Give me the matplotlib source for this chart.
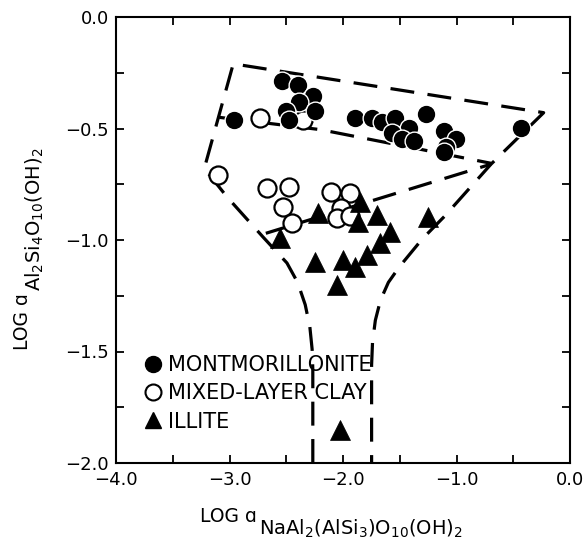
import matplotlib
matplotlib.use('Agg')
import matplotlib.pyplot as plt
from matplotlib.ticker import MultipleLocator, FuncFormatter
from matplotlib.lines import Line2D

# --- data ---
mont_x = [-2.959, -2.538, -2.397, -2.266, -2.389, -2.248, -2.503, -2.476,
          -1.897, -1.748, -1.652, -1.546, -1.266, -1.415, -1.564, -1.476,
          -1.371, -1.108, -1.003, -1.090, -1.108, -0.432]
mont_y = [-0.460, -0.286, -0.304, -0.353, -0.379, -0.420, -0.420, -0.460,
          -0.455, -0.451, -0.473, -0.451, -0.433, -0.496, -0.522, -0.545,
          -0.554, -0.509, -0.545, -0.585, -0.607, -0.496]

mixed_x = [-2.731, -2.354, -3.099, -2.669, -2.476, -2.529, -2.450,
           -2.108, -1.941, -2.020, -2.055, -1.941]
mixed_y = [-0.455, -0.460, -0.710, -0.768, -0.763, -0.853, -0.924,
           -0.786, -0.790, -0.857, -0.902, -0.893]

illite_x = [-2.555, -2.222, -1.854, -1.704, -1.871, -1.590, -1.678,
            -1.792, -1.897, -2.003, -2.248, -2.055, -1.254, -2.030]
illite_y = [-0.991, -0.879, -0.830, -0.888, -0.920, -0.964, -1.013,
            -1.067, -1.121, -1.089, -1.098, -1.201, -0.896, -1.853]

# field boundaries (dashed)
outer_x = [-2.266, -2.266, -2.272, -2.292, -2.333, -2.400, -2.494, -2.704,
           -3.020, -3.222, -2.967, -0.232, -0.696, -1.108, -1.301, -1.503,
           -1.600, -1.670, -1.715, -1.740, -1.748, -1.748]
outer_y = [-2.000, -1.580, -1.490, -1.390, -1.290, -1.190, -1.103, -0.987,
           -0.808, -0.679, -0.210, -0.429, -0.660, -0.895, -0.995, -1.120,
           -1.190, -1.270, -1.360, -1.460, -1.560, -2.000]
mont_lower_x = [-3.09, -2.20, -1.40, -0.696]
mont_lower_y = [-0.450, -0.505, -0.585, -0.656]
illite_upper_x = [-2.68, -0.696]
illite_upper_y = [-0.970, -0.660]

labels = ['MONTMORILLONITE', 'MIXED-LAYER CLAY', 'ILLITE']

W, H = 587, 542
fig = plt.figure(figsize=(W/100, H/100), dpi=100)
ax = fig.add_axes([116/W, 1-463/H, (570-116)/W, (463-17)/H])

dash = (0, (7.5, 4.2))
for xs, ys in [(outer_x, outer_y), (mont_lower_x, mont_lower_y),
               (illite_upper_x, illite_upper_y)]:
    ax.plot(xs, ys, color='black', lw=2.3, linestyle=dash, zorder=1,
            dash_capstyle='butt', dash_joinstyle='round')

ax.plot(mixed_x, mixed_y, 'o', ms=13, mfc='white', mec='black', mew=1.6,
        linestyle='none', zorder=3)
ax.plot(mont_x, mont_y, 'o', ms=13.5, mfc='black', mec='white', mew=1.0,
        linestyle='none', zorder=4)
ax.plot(illite_x, illite_y, '^', ms=14, mfc='black', mec='black', mew=0.5,
        linestyle='none', zorder=4)

ax.set_xlim(-4, 0)
ax.set_ylim(-2, 0)

fmt = FuncFormatter(lambda v, p: f'{v:.1f}'.replace('-', '\u2212'))
ax.xaxis.set_major_locator(MultipleLocator(1.0))
ax.xaxis.set_minor_locator(MultipleLocator(0.5))
ax.yaxis.set_major_locator(MultipleLocator(0.5))
ax.yaxis.set_minor_locator(MultipleLocator(0.25))
ax.xaxis.set_major_formatter(fmt)
ax.yaxis.set_major_formatter(fmt)
ax.tick_params(which='both', direction='in', length=6, width=1.3,
               top=True, right=True, labelsize=13)
ax.tick_params(axis='x', pad=6)
ax.tick_params(axis='y', pad=5)
for s in ax.spines.values():
    s.set_linewidth(1.5)

# axis labels (main part + large subscript, as in the original)
def px(x, y):
    return x / W, 1 - y / H

tx = fig.text(*px(200, 522), 'LOG \u0251', fontsize=13.5, ha='left',
              va='baseline')
ax.annotate(r'NaAl$_2$(AlSi$_3$)O$_{10}$(OH)$_2$', xy=(1, 0), xycoords=tx,
            xytext=(1.5, -6.0), textcoords='offset points', fontsize=14,
            ha='left', va='baseline', annotation_clip=False)

ty = fig.text(*px(28, 350), 'LOG \u0251', fontsize=13.5, ha='left',
              va='baseline', rotation=90, rotation_mode='anchor')
ax.annotate(r'Al$_2$Si$_4$O$_{10}$(OH)$_2$', xy=(1, 1), xycoords=ty,
            xytext=(6.0, 1.5), textcoords='offset points', fontsize=14,
            ha='left', va='baseline', rotation=90, rotation_mode='anchor',
            annotation_clip=False)

handles = [
    Line2D([], [], marker='o', ms=11.5, mfc='black', mec='black', ls='none'),
    Line2D([], [], marker='o', ms=11.5, mfc='white', mec='black', mew=1.5, ls='none'),
    Line2D([], [], marker='^', ms=12, mfc='black', mec='black', ls='none'),
]
ax.legend(handles, labels, loc='lower left', bbox_to_anchor=(0.05, 0.056),
          frameon=False, fontsize=15, handlelength=0.8, handletextpad=0.3,
          labelspacing=0.4, borderpad=0.3, borderaxespad=0)

fig.savefig('out.png', dpi=100)
